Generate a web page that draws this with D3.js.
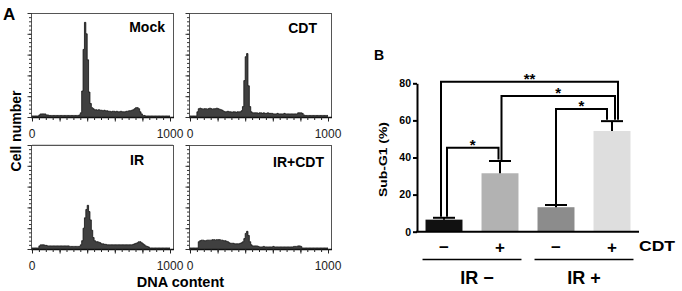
<!DOCTYPE html>
<html><head><meta charset="utf-8">
<script src="https://cdn.jsdelivr.net/npm/d3@7"></script>
<style>html,body{margin:0;padding:0;background:#fff;} svg{display:block;font-family:"Liberation Sans",Arial,sans-serif;}</style>
</head><body><svg id="c" width="682" height="291"></svg>
<script>
// ---------- DATA ----------
const histLabels = ["Mock", "CDT", "IR", "IR+CDT"];
const dnaTickLabels = [0, 1000];
const binWidth = 10; // DNA content channels per bin (0..1000)
const mockCounts = [1,1,1,1,1, 2,3,3,3,3,2,2,
  1.5,1.5,1.5,1.5,1.5,1.5,1.5,1.5,1.5,1.5,1.5,1.5,1.5,1.5,1.5,1.5,1.5,1.5,1.5,1.5,1.5,1.5,2,
  4,25,65,91,80,55,24,13,9,8,
  7,7,6.5,7,6.5,6.5,6,6.5,6,6,
  5.5,5.5,5,5.5,5.5,5,5.5,5,5,5.5,5,5,5,5.5,5.5,
  6,6,6.5,7, 8,9,9,8, 5,3,
  1.5,1.5,1,1,1,1,1,1,1,1,1,1,1,1,1,1,1,1,1,1];
const cdtCounts = [1,1,1,1,1, 5,
  8,8.5,8,7.5,8,8,7.5,8,8.5,8,7.5,8,8,8.5,8,7.5,7,6.5,
  5.5,5,5,5.5,5,5,4.5,5,5,4.5,5,5,5,6,
  10,35,58,61,30,10,5,
  4,4,4,4,3.5,4,4,3.5,4,3.5,3.5,4,3.5,3.5,3.5,
  3,3,3,3.5,3,3,3,3,3.5,3,3,3,3,3,3,3,3,3,
  4,4,4,3.5,
  2,1.5,1.5,1.5,1.5,1.5,1.5,1.5,1.5,1.5,1.5,1.5,1.5,1.5,1.5,1.5,1.5,1.5];
const irCounts = [1,1,1,1,1, 3,4,4,4,3.5,3.5,
  3,3,3,3,3,3,3,3,3,3,3,3,3,3,3,3,2.5,2.5,2.5,2.5,2.5,2.5,2.5,2.5,
  4,8, 20,30,38,42,36,28,18,11,
  8,7,7,6.5,6,
  5,5,4.5,4.5,4,4,4,4,4,4,4,4,4,4,4,4,4,4,4,4,4,4,4,4.5,5,5.5,
  6,7,7,6,5, 4,3,2.5,2,
  1,1,1,1,1,1,1,1,1,1,1,1,1,1,1];
const irCdtCounts = [1,1,1,1,1,1,
  7,8,8.5,8.5,8,8,8.5,8.5,8.5,8.5,9,9,8.5,9,9,9,8.5,8.5,8,8,7.5,7,
  6,5.5,5.5,5.5,5,5,5,5,5.5,6,7,
  10,15,17,13,7,4,
  3,3,3,3,2.5,
  2,2,2,2.5,2,2,2,2,2,2,2.5,2,2,2,2,2,2,2,2,2,2,2,2,2,2,2.5,2.5,2.5,
  3,3,2.5,
  1,1,1,1,1,1,1,1,1,1,1,1,1,1,1,1,1,1,1];
const histCounts = [mockCounts, cdtCounts, irCounts, irCdtCounts];

const barCategories = ["IR− CDT−", "IR− CDT+", "IR+ CDT−", "IR+ CDT+"];
const subG1Mean = [6.5, 31.5, 13.2, 54.3];
const subG1Err  = [1.0, 6.6, 1.2, 5.3];
const yTicks = [0, 20, 40, 60, 80];
const cdtSigns = ["−", "+", "−", "+"];
const irGroups = ["IR −", "IR +"];
const sigPairs  = [[0, 3], [1, 3], [2, 3], [0, 1]];
const sigLevels = [80.8, 73.2, 66.2, 45.2];
const sigLabels = ["**", "*", "*", "*"];

// ---------- LAYOUT ----------
const svg = d3.select("#c");
const FONT = '"Liberation Sans", Arial, sans-serif';

svg.append("text").attr("x", 3).attr("y", 20).attr("font-size", 17).attr("font-weight", "bold").text("A");
svg.append("text").attr("x", 374).attr("y", 59.5).attr("font-size", 14).attr("font-weight", "bold").text("B");

// Panel A
const frames = [{x:31,y:13},{x:189,y:13},{x:31,y:145},{x:189,y:145}];
const fw = 142, fh = 104;
const labelPos = [{x:165,y:32,a:"end"},{x:317,y:33,a:"end"},{x:130,y:165,a:"start"},{x:324,y:167,a:"end"}];

histCounts.forEach((counts, k) => {
  const f = frames[k];
  const g = svg.append("g");
  const x = d3.scaleLinear().domain([0, 1000]).range([f.x + 1, f.x + fw - 3]);
  const y = d3.scaleLinear().domain([0, 100]).range([f.y + fh, f.y]);
  const pts = counts.map((v, i) => [i * binWidth, v]);
  pts.push([1000, counts[counts.length - 1]]);
  const area = d3.area().x(d => x(d[0])).y0(y(0)).y1(d => y(d[1])).curve(d3.curveStepAfter);
  const line = d3.line().x(d => x(d[0])).y(d => y(d[1])).curve(d3.curveStepAfter);
  g.append("path").datum(pts).attr("d", area).attr("fill", "#404040").attr("stroke", "none");
  g.append("path").datum(pts).attr("d", line).attr("fill", "none")
    .attr("stroke", "#111").attr("stroke-width", 0.8).attr("stroke-linejoin", "miter");
  // frame
  g.append("rect").attr("x", f.x + 0.5).attr("y", f.y + 0.5).attr("width", fw).attr("height", fh)
    .attr("fill", "none").attr("stroke", "#555").attr("stroke-width", 1);
  // bottom axis line
  g.append("line").attr("x1", f.x).attr("x2", f.x + fw + 1).attr("y1", f.y + fh + 0.5).attr("y2", f.y + fh + 0.5)
    .attr("stroke", "#111").attr("stroke-width", 1.6);
  // bottom ticks
  const minorB = d3.axisBottom(x).tickValues(d3.range(0, 1001, 50)).tickSize(3).tickFormat("");
  const majorB = d3.axisBottom(x).tickValues(d3.range(0, 1001, 200)).tickSize(4.5).tickFormat("");
  [minorB, majorB].forEach(ax => {
    const a = g.append("g").attr("transform", `translate(0,${f.y + fh})`).call(ax);
    a.select(".domain").remove();
    a.selectAll("line").attr("stroke", "#222").attr("stroke-width", 1);
  });
  // left ticks
  const ly = d3.scaleLinear().domain([0, 25]).range([f.y + fh, f.y]);
  const minorL = d3.axisLeft(ly).tickValues(d3.range(0, 26)).tickSize(2.5).tickFormat("");
  const majorL = d3.axisLeft(ly).tickValues(d3.range(0, 26, 5)).tickSize(4).tickFormat("");
  [minorL, majorL].forEach(ax => {
    const a = g.append("g").attr("transform", `translate(${f.x + 0.5},0)`).call(ax);
    a.select(".domain").remove();
    a.selectAll("line").attr("stroke", "#333").attr("stroke-width", 1);
  });
  // tick labels
  g.selectAll("text.tl").data(dnaTickLabels).enter().append("text")
    .attr("x", d => x(d)).attr("y", f.y + fh + 21)
    .attr("text-anchor", "middle").attr("font-size", 12).attr("fill", "#222").text(d => d);
  // panel label
  const lp = labelPos[k];
  g.append("text").attr("x", lp.x).attr("y", lp.y).attr("text-anchor", lp.a)
    .attr("font-size", 14).attr("font-weight", "bold").text(histLabels[k]);
});
// faint line under Mock labels
svg.append("line").attr("x1", 32).attr("x2", 173).attr("y1", 144.5).attr("y2", 144.5)
  .attr("stroke", "#d4d4d4").attr("stroke-width", 1);

svg.append("text").attr("transform", "translate(20.5,131) rotate(-90)").attr("text-anchor", "middle")
  .attr("font-size", 14).attr("font-weight", "bold").text("Cell number");
svg.append("text").attr("x", 180.5).attr("y", 287).attr("text-anchor", "middle")
  .attr("font-size", 14.5).attr("font-weight", "bold").text("DNA content");

// Panel B
const barColors = ["#111111", "#b2b2b2", "#8c8c8c", "#dedede"];
const xb = d3.scaleBand().domain(barCategories).range([416, 640]).paddingInner(0.34).paddingOuter(0.17);
const yb = d3.scaleLinear().domain([0, 80]).range([231.7, 83.3]);
const cx = i => xb(barCategories[i]) + xb.bandwidth() / 2;
const gb = svg.append("g");

gb.selectAll("rect.bar").data(subG1Mean).enter().append("rect")
  .attr("x", (d, i) => xb(barCategories[i])).attr("width", xb.bandwidth())
  .attr("y", d => yb(d)).attr("height", d => yb(0) - yb(d))
  .attr("fill", (d, i) => barColors[i]);

// error bars (upper only)
subG1Mean.forEach((m, i) => {
  const top = yb(m + subG1Err[i]);
  gb.append("line").attr("x1", cx(i)).attr("x2", cx(i)).attr("y1", yb(m)).attr("y2", top)
    .attr("stroke", "#000").attr("stroke-width", 2);
  gb.append("line").attr("x1", cx(i) - 11).attr("x2", cx(i) + 11).attr("y1", top).attr("y2", top)
    .attr("stroke", "#000").attr("stroke-width", 2);
});

// y axis
const ya = gb.append("g").attr("transform", "translate(417,0)")
  .call(d3.axisLeft(yb).tickValues(yTicks).tickSize(4).tickSizeOuter(0).tickPadding(2));
ya.select(".domain").attr("stroke", "#000").attr("stroke-width", 2);
ya.selectAll("line").attr("stroke", "#000").attr("stroke-width", 2);
ya.selectAll("text").attr("font-size", 10.5).attr("font-weight", "bold").attr("font-family", FONT).attr("fill", "#000");
// x axis line
gb.append("line").attr("x1", 416).attr("x2", 639).attr("y1", yb(0)).attr("y2", yb(0))
  .attr("stroke", "#000").attr("stroke-width", 2);

svg.append("text").attr("transform", "translate(387,159.5) rotate(-90)").attr("text-anchor", "middle")
  .attr("font-size", 11).attr("font-weight", "bold").attr("textLength", 75).attr("lengthAdjust", "spacingAndGlyphs")
  .text("Sub-G1 (%)");

// significance brackets
const legDx = [[-3, 6], [1.5, 3], [0, -5], [3, -1.5]];
sigPairs.forEach((p, k) => {
  const [a, b] = p;
  const xl = cx(a) + legDx[k][0], xr = cx(b) + legDx[k][1];
  const yl = yb(sigLevels[k]);
  const ya_ = yb(subG1Mean[a] + subG1Err[a]) - 1;
  const yb_ = yb(subG1Mean[b] + subG1Err[b]) - 1.5;
  gb.append("path").attr("d", `M${xl},${ya_}V${yl}H${xr}V${yb_}`)
    .attr("fill", "none").attr("stroke", "#000").attr("stroke-width", 2);
  gb.append("text").attr("x", (xl + xr) / 2).attr("y", yl + 2).attr("text-anchor", "middle")
    .attr("font-size", 15).attr("font-weight", "bold").text(sigLabels[k]);
});

// CDT signs
gb.selectAll("text.sign").data(cdtSigns).enter().append("text")
  .attr("x", (d, i) => cx(i)).attr("y", 252.5).attr("text-anchor", "middle")
  .attr("font-size", 17).attr("font-weight", "bold").text(d => d);
gb.append("text").attr("x", 639).attr("y", 251).attr("font-size", 15).attr("font-weight", "bold")
  .attr("textLength", 36).attr("lengthAdjust", "spacingAndGlyphs").text("CDT");

// IR groups
const groupDx = [5, 0];
irGroups.forEach((t, gi) => {
  const x1 = xb(barCategories[gi * 2]) - 3;
  const x2 = xb(barCategories[gi * 2 + 1]) + xb.bandwidth() + 3;
  gb.append("line").attr("x1", x1).attr("x2", x2).attr("y1", 259.5).attr("y2", 259.5)
    .attr("stroke", "#000").attr("stroke-width", 1.5);
  gb.append("text").attr("x", (x1 + x2) / 2 + groupDx[gi]).attr("y", 283.5).attr("text-anchor", "middle")
    .attr("font-size", 18).attr("font-weight", "bold").text(t);
});
</script></body></html>
